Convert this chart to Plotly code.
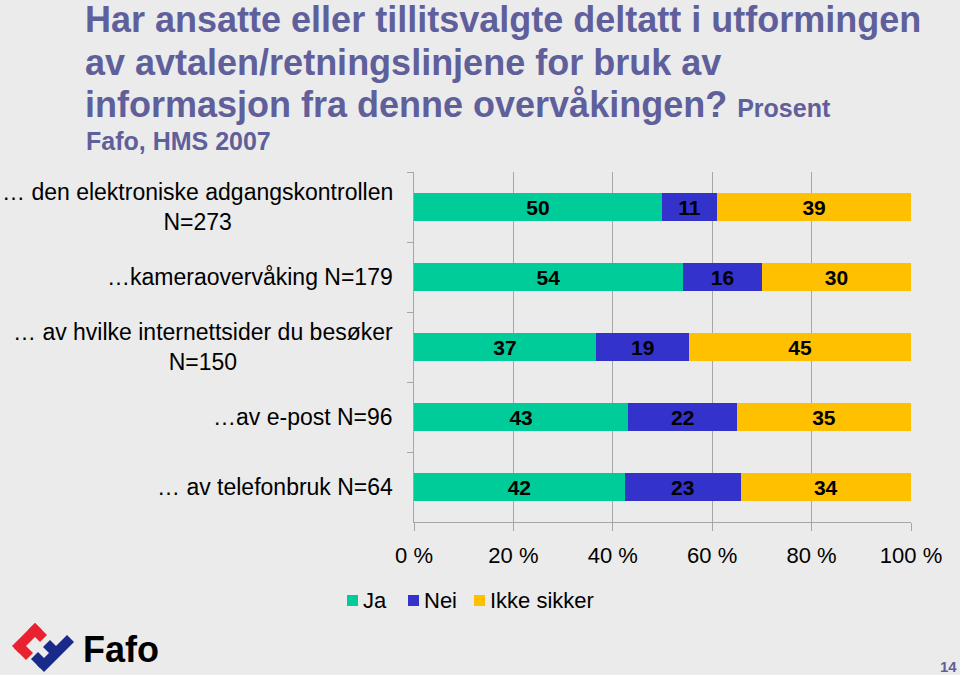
import plotly.graph_objects as go

categories = [
    "… den elektroniske adgangskontrollen<br>N=273",
    "…kameraovervåking N=179",
    "… av hvilke internettsider du besøker<br>N=150",
    "…av e-post N=96",
    "… av telefonbruk N=64",
]
# shares (labels show rounded values)
ja = [49.9, 54.1, 36.6, 43.1, 42.4]
nei = [11.1, 15.9, 18.8, 21.9, 23.3]
ikke_sikker = [39.0, 30.0, 44.6, 35.0, 34.3]
series_names = ["Ja", "Nei", "Ikke sikker"]
x_ticks = [0, 20, 40, 60, 80, 100]
x_tick_labels = ["0 %", "20 %", "40 %", "60 %", "80 %", "100 %"]

W, H = 960, 675
L, R, T, B = 414, 911, 172, 522
BG = "#EBEBEB"
TITLE_C = "#5F5F9B"
FONT = "Liberation Sans, Arial, sans-serif"


def px(x):
    return (x - L) / (R - L)


def py(y):
    return (B - y) / (B - T)


fig = go.Figure()
colors = ["#00CC99", "#3333CC", "#FFC000"]
for name, vals, c in zip(series_names, [ja, nei, ikke_sikker], colors):
    fig.add_trace(go.Bar(
        y=categories, x=vals, name=name, orientation="h",
        marker=dict(color=c, line=dict(width=0)),
        texttemplate="%{x:.0f}", textposition="inside",
        insidetextanchor="middle", textangle=0,
        textfont=dict(family=FONT, size=21, color="black", weight="bold"),
        hoverinfo="skip", showlegend=False,
    ))

annotations = []
for cat in categories:
    annotations.append(dict(
        xref="paper", yref="y", x=px(395), y=cat, xanchor="right",
        yanchor="middle", align="center", showarrow=False, text=cat,
        font=dict(family=FONT, size=23, color="black"),
    ))

title_lines = [
    ("Har ansatte eller tillitsvalgte deltatt i utformingen", 19),
    ("av avtalen/retningslinjene for bruk av", 62),
    ("informasjon fra denne overvåkingen? <span style='font-size:25px'>Prosent</span>", 105),
]
for txt, yy in title_lines:
    annotations.append(dict(
        xref="paper", yref="paper", x=px(83), y=py(yy), xanchor="left",
        yanchor="middle", showarrow=False, text=txt,
        font=dict(family=FONT, size=36, color=TITLE_C, weight="bold"),
    ))
annotations.append(dict(
    xref="paper", yref="paper", x=px(84), y=py(141), xanchor="left",
    yanchor="middle", showarrow=False, text="Fafo, HMS 2007",
    font=dict(family=FONT, size=25, color=TITLE_C, weight="bold"),
))
annotations.append(dict(
    xref="paper", yref="paper", x=px(81), y=py(649), xanchor="left",
    yanchor="middle", showarrow=False, text="Fafo",
    font=dict(family=FONT, size=36, color="black", weight="bold"),
))
annotations.append(dict(
    xref="paper", yref="paper", x=px(959), y=py(666), xanchor="right",
    yanchor="middle", showarrow=False, text="14",
    font=dict(family=FONT, size=15, color=TITLE_C, weight="bold"),
))

# legend (manual, to match the compact spacing of the reference)
legend_x = [347, 408, 474]
shapes = []
for name, c, lx in zip(series_names, colors, legend_x):
    shapes.append(dict(type="rect", xref="paper", yref="paper",
                       x0=px(lx), x1=px(lx + 11), y0=py(606), y1=py(595),
                       fillcolor=c, line=dict(width=0)))
    annotations.append(dict(
        xref="paper", yref="paper", x=px(lx + 14), y=py(600), xanchor="left",
        yanchor="middle", showarrow=False, text=name,
        font=dict(family=FONT, size=22, color="black"),
    ))


def poly(points, color):
    d = "M " + " L ".join(f"{px(x):.5f},{py(y):.5f}" for x, y in points) + " Z"
    return dict(type="path", xref="paper", yref="paper", path=d,
                fillcolor=color, line=dict(width=0), layer="above")


red = "#E8232F"
blue = "#1A2A8A"
shapes += [
    poly([(12, 646), (35, 623), (42, 630), (19, 653)], red),
    poly([(35, 623), (47, 635), (40, 642), (28, 630)], red),
    poly([(14, 648), (21, 641), (33, 653), (26, 660)], red),
    poly([(37, 665), (67, 635), (74, 642), (44, 672)], blue),
    poly([(31, 659), (38, 652), (47, 661), (40, 668)], blue),
    poly([(43, 647), (50, 640), (58, 648), (51, 655)], blue),
]

fig.update_layout(
    width=W, height=H,
    margin=dict(l=L, r=W - R, t=T, b=H - B),
    paper_bgcolor=BG, plot_bgcolor=BG,
    barmode="stack", bargap=0.61,
    showlegend=False,
    xaxis=dict(range=[0, 100], tickvals=x_ticks, ticktext=x_tick_labels,
               showgrid=True, gridcolor="#A6A6A6", gridwidth=1,
               showline=True, linecolor="#A6A6A6", linewidth=1,
               ticks="outside", ticklen=8, tickcolor="#A6A6A6",
               tickfont=dict(family=FONT, size=22, color="black"),
               ticklabelstandoff=6, zeroline=False, fixedrange=True),
    yaxis=dict(autorange="reversed", showticklabels=False,
               showline=True, linecolor="#A6A6A6", linewidth=1,
               ticks="outside", ticklen=6, tickcolor="#A6A6A6",
               tickson="boundaries", showgrid=False, fixedrange=True),
    annotations=annotations,
    shapes=shapes,
    uniformtext=dict(minsize=21, mode="show"),
)

fig.write_html(
    "out.html",
    config={"displayModeBar": False},
    post_script="document.body.style.margin='0';document.body.style.background='#EBEBEB';",
)
